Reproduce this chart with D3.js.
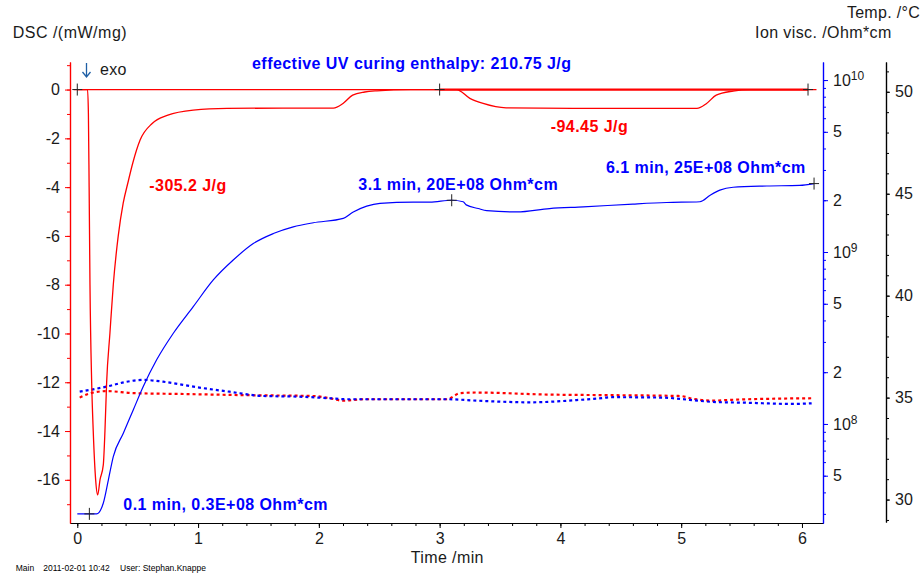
<!DOCTYPE html>
<html>
<head>
<meta charset="utf-8">
<script src="https://cdn.jsdelivr.net/npm/d3@7"></script>
<style>
  body { margin: 0; background: #fff; }
  svg { display: block; font-family: "Liberation Sans", Arial, sans-serif; }
</style>
</head>
<body>
<svg id="chart" width="924" height="575"></svg>
<script>
// ---- DSC heat flow (mW/mg) over time (min) ----
const dscTime  = [-0.03, 0, 0.085, 0.092, 0.098, 0.105, 0.119, 0.132, 0.152, 0.169, 0.188, 0.215, 0.229, 0.243, 0.27, 0.298, 0.339, 0.38, 0.42, 0.46, 0.52, 0.62, 0.75, 0.96, 1.24, 1.7, 2.12, 2.2, 2.28, 2.38, 2.48, 2.76, 3.14, 3.25, 3.36, 3.55, 4.3, 5.13, 5.21, 5.29, 5.43, 5.57, 6.12];
const dscValue = [0, 0, 0, -1, -4, -8, -12, -14, -16, -16.62, -16, -15.4, -14, -12, -10, -8, -6, -4.66, -3.8, -3.0, -2.07, -1.39, -1.05, -0.84, -0.77, -0.76, -0.76, -0.57, -0.23, -0.1, -0.05, 0, 0, -0.36, -0.57, -0.75, -0.77, -0.77, -0.57, -0.23, -0.06, 0, 0];

// ---- Ion viscosity, in units of 1E+08 Ohm*cm ----
const ionTime  = [0, 0.16, 0.215, 0.257, 0.298, 0.381, 0.464, 0.546, 0.657, 0.795, 0.96, 1.126, 1.291, 1.457, 1.623, 1.788, 1.954, 2.202, 2.285, 2.396, 2.506, 2.781, 2.919, 3.1, 3.195, 3.22, 3.32, 3.39, 3.64, 3.91, 4.19, 4.6, 4.88, 5.155, 5.24, 5.32, 5.43, 5.71, 5.98, 6.1];
const ionValue = [0.3, 0.3, 0.346, 0.472, 0.646, 0.883, 1.21, 1.65, 2.36, 3.37, 4.81, 6.88, 8.98, 11.2, 12.8, 14.0, 14.8, 15.7, 17.1, 18.5, 19.2, 19.5, 19.5, 20, 19.6, 18.8, 17.9, 17.4, 17.1, 17.9, 18.3, 19.0, 19.4, 19.6, 21.4, 22.9, 23.8, 24.2, 24.4, 25];

// ---- Temperatures (°C) ----
const tempRedTime  = [0.02, 0.1, 0.243, 0.46, 0.85, 1.4, 1.95, 2.09, 2.2, 2.37, 3.06, 3.17, 3.3, 3.89, 4.43, 4.99, 5.1, 5.26, 5.4, 6.09];
const tempRed      = [35.0, 35.2, 35.32, 35.22, 35.18, 35.12, 35.08, 34.97, 34.85, 34.92, 34.92, 35.22, 35.25, 35.15, 35.12, 35.08, 34.94, 34.85, 34.89, 34.97];
const tempBlueTime = [0.02, 0.243, 0.41, 0.546, 0.71, 0.99, 1.26, 1.54, 1.82, 2.09, 2.23, 3.06, 3.31, 3.75, 4.16, 4.3, 4.43, 4.85, 5.07, 5.26, 5.54, 5.92, 6.08];
const tempBlue     = [35.29, 35.54, 35.78, 35.87, 35.78, 35.51, 35.29, 35.08, 35.05, 34.97, 34.92, 34.92, 34.85, 34.77, 34.89, 34.95, 35.02, 35.0, 34.89, 34.79, 34.75, 34.69, 34.72];

// ---- Tick labels ----
const timeTicks = [0, 1, 2, 3, 4, 5, 6];
const dscTicks  = [0, -2, -4, -6, -8, -10, -12, -14, -16];
const ionTicks  = [1e10, 5e9, 2e9, 1e9, 5e8, 2e8, 1e8, 5e7];
const tempTicks = [50, 45, 40, 35, 30];

// ---- Evaluation marks ----
const dscMarkTime = [0, 3.0, 6.05];
const ionMarkTime = [0.1, 3.1, 6.1];
const ionMarkValue = [0.3, 20, 25];

const svg = d3.select("#chart");

const x     = d3.scaleLinear().domain([-0.0604, 6.174]).range([70, 823]);
const yDsc  = d3.scaleLinear().domain([-17.77, 1.13]).range([523, 62]);
const yIon  = d3.scaleLog().domain([Math.pow(10, 7.424), Math.pow(10, 10.105)]).range([523, 62]);
const yTemp = d3.scaleLinear().domain([28.9, 51.46]).range([522, 62]);

const RED = "#ff0000", BLUE = "#0000ff", INK = "#1a1a1a";

function styleAxis(g, color, labelColor) {
  g.select(".domain").attr("stroke", color).attr("stroke-width", 1.2);
  g.selectAll(".tick line").attr("stroke", color);
  g.selectAll(".tick text").attr("fill", labelColor).attr("font-size", 16)
    .attr("font-family", "Liberation Sans, Arial, sans-serif");
}

// ---- X axis ----
const xMinor = d3.range(0, 6.01, 0.2).map(v => +v.toFixed(1));
svg.append("g").attr("transform", "translate(0,523)")
  .call(d3.axisBottom(x).tickValues(xMinor).tickSize(3).tickSizeOuter(0).tickFormat(""))
  .call(g => styleAxis(g, "#000", INK));
svg.append("g").attr("transform", "translate(0,523)")
  .call(d3.axisBottom(x).tickValues(timeTicks).tickSize(5).tickSizeOuter(0).tickPadding(5).tickFormat(d3.format("d")))
  .call(g => styleAxis(g, "#000", INK));

// ---- DSC axis (left, red) ----
svg.append("g").attr("transform", "translate(70,0)")
  .call(d3.axisLeft(yDsc).tickValues(d3.range(-17, 2, 1)).tickSize(3).tickSizeOuter(0).tickFormat(""))
  .call(g => styleAxis(g, RED, INK));
svg.append("g").attr("transform", "translate(70,0)")
  .call(d3.axisLeft(yDsc).tickValues(dscTicks).tickSize(5).tickSizeOuter(0).tickPadding(5).tickFormat(d3.format("d")))
  .call(g => styleAxis(g, RED, INK))
  .call(g => g.selectAll(".tick text").text(d => String(d)));

// ---- Ion viscosity axis (log, blue) ----
const ionMinor = [];
for (let e = 7; e <= 10; e++) for (let m = 1; m <= 9; m++) {
  const v = m * Math.pow(10, e);
  if (v >= yIon.domain()[0] && v <= yIon.domain()[1]) ionMinor.push(v);
}
svg.append("g").attr("transform", "translate(823,0)")
  .call(d3.axisRight(yIon).tickValues(ionMinor).tickSize(3).tickSizeOuter(0).tickFormat(""))
  .call(g => styleAxis(g, BLUE, INK));
const ionAxis = svg.append("g").attr("transform", "translate(823,0)")
  .call(d3.axisRight(yIon).tickValues(ionTicks).tickSize(5).tickSizeOuter(0).tickPadding(5).tickFormat(""))
  .call(g => styleAxis(g, BLUE, INK));
ionAxis.selectAll(".tick text").each(function(d) {
  const t = d3.select(this);
  const exp = Math.floor(Math.log10(d) + 1e-9);
  const mant = Math.round(d / Math.pow(10, exp));
  if (mant === 1) {
    t.text("10");
    t.append("tspan").attr("dy", "-0.45em").attr("font-size", 12).text(String(exp));
  } else {
    t.text(String(mant));
  }
});

// ---- Temperature axis (black) ----
svg.append("g").attr("transform", "translate(886,0)")
  .call(d3.axisRight(yTemp).tickValues(d3.range(29, 52, 1)).tickSize(3).tickSizeOuter(0).tickFormat(""))
  .call(g => styleAxis(g, "#000", INK));
svg.append("g").attr("transform", "translate(886,0)")
  .call(d3.axisRight(yTemp).tickValues(tempTicks).tickSize(4).tickSizeOuter(0).tickPadding(5).tickFormat(d3.format("d")))
  .call(g => styleAxis(g, "#000", INK));

// ---- Curves ----
const dscLine = d3.line().x(d => x(d[0])).y(d => yDsc(d[1])).curve(d3.curveMonotoneX);
const ionLine = d3.line().x(d => x(d[0])).y(d => yIon(d[1] * 1e8)).curve(d3.curveMonotoneX);
const tempLine = d3.line().x(d => x(d[0])).y(d => yTemp(d[1])).curve(d3.curveMonotoneX);

// temperature traces (dotted)
svg.append("path").datum(d3.zip(tempRedTime, tempRed)).attr("d", tempLine)
  .attr("fill", "none").attr("stroke", RED).attr("stroke-width", 2.2).attr("stroke-dasharray", "3,3");
svg.append("path").datum(d3.zip(tempBlueTime, tempBlue)).attr("d", tempLine)
  .attr("fill", "none").attr("stroke", BLUE).attr("stroke-width", 2.2).attr("stroke-dasharray", "3,3");

// integration baselines of the two DSC peaks
svg.append("path").datum([[0, 0], [3.0, 0]]).attr("d", dscLine)
  .attr("fill", "none").attr("stroke", RED).attr("stroke-width", 1.2);
svg.append("path").datum([[3.0, 0], [6.05, 0]]).attr("d", dscLine)
  .attr("fill", "none").attr("stroke", RED).attr("stroke-width", 2.2);

// DSC curve
svg.append("path").datum(d3.zip(dscTime, dscValue)).attr("d", dscLine)
  .attr("fill", "none").attr("stroke", RED).attr("stroke-width", 1.3);

// ion viscosity curve
svg.append("path").datum(d3.zip(ionTime, ionValue)).attr("d", ionLine)
  .attr("fill", "none").attr("stroke", BLUE).attr("stroke-width", 1.2);

// evaluation crosses
function cross(cx, cy) {
  svg.append("path")
    .attr("d", `M${cx - 5},${cy}H${cx + 5}M${cx},${cy - 6}V${cy + 6}`)
    .attr("stroke", "#222").attr("stroke-width", 1).attr("fill", "none");
}
dscMarkTime.forEach(t => cross(x(t), yDsc(0)));
ionMarkTime.forEach((t, i) => cross(x(t), yIon(ionMarkValue[i] * 1e8)));

// ---- Texts ----
function txt(s, px, py, opts = {}) {
  return svg.append("text").attr("x", px).attr("y", py)
    .attr("font-size", opts.size || 16)
    .attr("font-weight", opts.bold ? "bold" : "normal")
    .attr("fill", opts.fill || INK)
    .attr("text-anchor", opts.anchor || "start")
    .attr("letter-spacing", opts.ls || 0)
    .text(s);
}
txt("DSC /(mW/mg)", 12.7, 38.3, { ls: 0.5 });
txt("Temp. /°C", 920, 18.3, { anchor: "end", ls: 0.3 });
txt("Ion visc. /Ohm*cm", 891.7, 38.3, { anchor: "end", ls: 0.4 });

// exo direction arrow
svg.append("path")
  .attr("d", "M86.5,63V77M82.5,72L86.5,77L90.5,72")
  .attr("fill", "none").attr("stroke", "#1f5fa5").attr("stroke-width", 1.3);
txt("exo", 100, 75, { ls: 0.3 });
txt("Time /min", 410.7, 562.7, { ls: 0.4 });

const bold = { bold: true, ls: 0.45 };
txt("effective UV curing enthalpy: 210.75 J/g", 252, 69.3, Object.assign({ fill: BLUE }, bold));
txt("-305.2 J/g", 149.3, 190.7, Object.assign({ fill: RED }, bold));
txt("-94.45 J/g", 550.7, 131.7, Object.assign({ fill: RED }, bold));
txt("3.1 min, 20E+08 Ohm*cm", 358.3, 190, Object.assign({ fill: BLUE }, bold));
txt("6.1 min, 25E+08 Ohm*cm", 606, 173.3, Object.assign({ fill: BLUE }, bold));
txt("0.1 min, 0.3E+08 Ohm*cm", 123.3, 510, Object.assign({ fill: BLUE }, bold));

txt("Main", 15.7, 570.7, { size: 8.5, fill: "#000" });
txt("2011-02-01 10:42", 43.3, 570.7, { size: 8.5, fill: "#000" });
txt("User: Stephan.Knappe", 120, 570.7, { size: 8.5, fill: "#000" });
</script>
</body>
</html>
